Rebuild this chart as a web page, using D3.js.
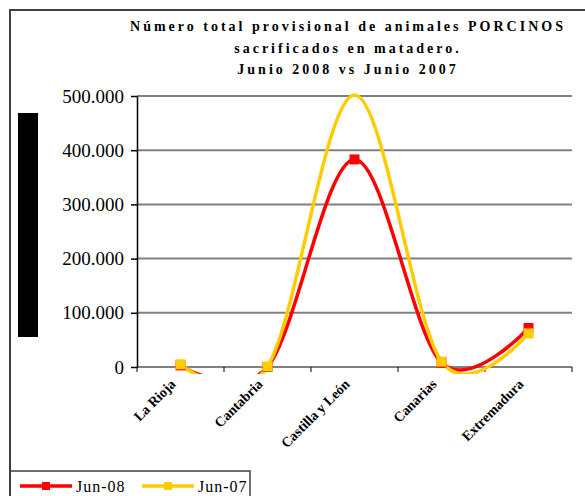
<html>
<head>
    <style>
        body { margin: 0; background-color: white; }
        svg { display: block; }
    </style>
</head>
<body>
    <div id="chart"></div>
    <script src="https://cdn.jsdelivr.net/npm/d3@7"></script>
    <script>
        const categories = ["La Rioja", "Cantabria", "Castilla y León", "Canarias", "Extremadura"];
        const jun08 = [3000, 0, 383000, 8000, 72000];
        const jun07 = [5000, 1000, 502000, 10000, 62000];
        const yTicks = [0, 100000, 200000, 300000, 400000, 500000];
        const titleLines = ["Número total provisional de animales PORCINOS", "sacrificados en matadero.", "Junio 2008 vs Junio 2007"];

        const width = 585, height = 496;
        const plot = { left: 137, right: 572, top: 96, bottom: 367 };

        const svg = d3.select("#chart").append("svg")
            .attr("width", width)
            .attr("height", height);

        // outer frame (only left and top edges are inside the picture)
        svg.append("path")
            .attr("d", `M10,${height} V10 H${width}`)
            .attr("fill", "none")
            .attr("stroke", "#404040")
            .attr("stroke-width", 2);

        // title
        svg.append("text")
            .attr("text-anchor", "middle")
            .style("font-family", "'Liberation Serif', serif")
            .style("font-weight", "bold")
            .style("font-size", "14px")
            .style("letter-spacing", "3px")
            .selectAll("tspan")
            .data(titleLines)
            .enter()
            .append("tspan")
            .attr("x", 348)
            .attr("y", (d, i) => 31 + i * 21.5)
            .text(d => d);

        // black block where the axis title would sit
        svg.append("rect")
            .attr("x", 18).attr("y", 113)
            .attr("width", 20).attr("height", 224)
            .attr("fill", "black");

        const x = d3.scaleBand()
            .domain(categories)
            .range([plot.left, plot.right]);
        const y = d3.scaleLinear()
            .domain([0, 500000])
            .range([plot.bottom, plot.top]);

        const es = d3.formatLocale({ decimal: ",", thousands: ".", grouping: [3], currency: ["", "€"] });
        const fmt = es.format(",d");

        // gridlines
        svg.append("g")
            .selectAll("line")
            .data(yTicks)
            .enter()
            .append("line")
            .attr("x1", plot.left).attr("x2", plot.right)
            .attr("y1", d => y(d)).attr("y2", d => y(d))
            .attr("stroke", "#808080")
            .attr("stroke-width", 2);

        // y axis
        const yAxis = svg.append("g")
            .attr("transform", `translate(${plot.left},0)`)
            .call(d3.axisLeft(y).tickValues(yTicks).tickFormat(fmt).tickSize(6).tickSizeOuter(0).tickPadding(7));
        yAxis.select(".domain").attr("stroke", "black").attr("stroke-width", 1.5);
        yAxis.selectAll(".tick line").attr("stroke", "black").attr("stroke-width", 1.5);
        yAxis.selectAll("text")
            .style("font-family", "'Liberation Serif', serif")
            .style("font-size", "19px")
            .attr("fill", "black");

        // x axis ticks at band edges
        const xAxis = svg.append("g")
            .attr("transform", `translate(0,${plot.bottom})`);
        xAxis.selectAll("line")
            .data(d3.range(categories.length + 1))
            .enter()
            .append("line")
            .attr("x1", i => plot.left + i * x.step())
            .attr("x2", i => plot.left + i * x.step())
            .attr("y1", 0).attr("y2", 5)
            .attr("stroke", "black")
            .attr("stroke-width", 1);
        xAxis.selectAll("text")
            .data(categories)
            .enter()
            .append("text")
            .attr("text-anchor", "end")
            .attr("transform", d => `translate(${x(d) + x.bandwidth() / 2 - 4},${18}) rotate(-45)`)
            .style("font-family", "'Liberation Serif', serif")
            .style("font-weight", "bold")
            .style("font-size", "14px")
            .text(d => d);

        // series
        const series = [
            { name: "Jun-08", values: jun08, color: "#FF0000" },
            { name: "Jun-07", values: jun07, color: "#FFCC00" }
        ];

        svg.append("clipPath")
            .attr("id", "plotclip")
            .append("rect")
            .attr("x", plot.left).attr("y", plot.top - 8)
            .attr("width", plot.right - plot.left)
            .attr("height", plot.bottom - plot.top + 15);

        const line = d3.line()
            .x((d, i) => x(categories[i]) + x.bandwidth() / 2)
            .y(d => y(d))
            .curve(d3.curveCardinal.tension(0));

        series.forEach(s => {
            svg.append("path")
                .datum(s.values)
                .attr("clip-path", "url(#plotclip)")
                .attr("fill", "none")
                .attr("stroke", s.color)
                .attr("stroke-width", 3.5)
                .attr("d", line);
        });

        series.forEach(s => {
            svg.append("g")
                .selectAll("rect")
                .data(s.values.map((v, i) => ({ v, c: categories[i] })).filter(d => d.v <= 500000))
                .enter()
                .append("rect")
                .attr("x", d => x(d.c) + x.bandwidth() / 2 - 5)
                .attr("y", d => y(d.v) - 5)
                .attr("width", 10).attr("height", 10)
                .attr("fill", s.color);
        });

        // legend
        svg.append("path")
            .attr("d", `M10,471 H250 V${height}`)
            .attr("fill", "none")
            .attr("stroke", "#404040")
            .attr("stroke-width", 1.5);

        const legend = svg.append("g")
            .selectAll("g")
            .data(series)
            .enter()
            .append("g")
            .attr("transform", (d, i) => `translate(${20 + i * 122},486)`);
        legend.append("line")
            .attr("x1", 0).attr("x2", 52)
            .attr("stroke", d => d.color)
            .attr("stroke-width", 3.5);
        legend.append("rect")
            .attr("x", 22).attr("y", -4)
            .attr("width", 8).attr("height", 8)
            .attr("fill", d => d.color);
        legend.append("text")
            .attr("x", 56).attr("y", 6)
            .style("font-family", "'Liberation Serif', serif")
            .style("font-size", "16px")
            .style("letter-spacing", "1px")
            .text(d => d.name);
    </script>
</body>
</html>
